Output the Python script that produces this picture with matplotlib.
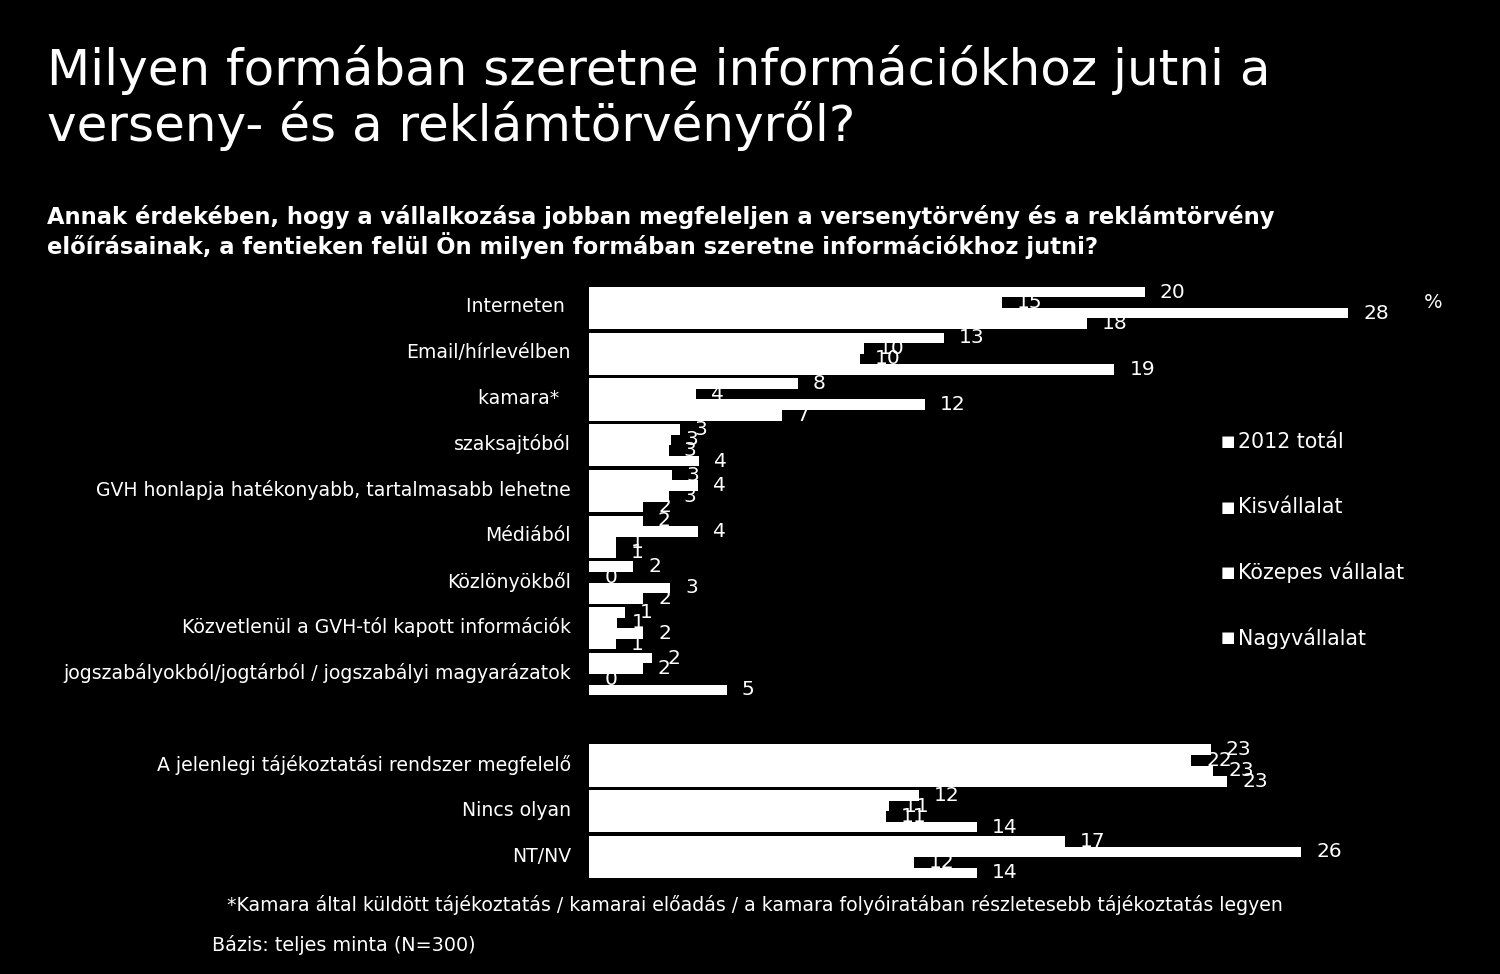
import numpy as np
import matplotlib.pyplot as plt
from matplotlib.transforms import ScaledTranslation

plt.rcParams['font.family'] = ['DejaVu Sans']

# Categories (top to bottom); empty string is the gap slot
categories = ['Interneten ', 'Email/hírlevélben', 'kamara*  ', 'szaksajtóból',
              'GVH honlapja hatékonyabb, tartalmasabb lehetne', 'Médiából',
              'Közlönyökből', 'Közvetlenül a GVH-tól kapott információk',
              'jogszabályokból/jogtárból / jogszabályi magyarázatok', '',
              'A jelenlegi tájékoztatási rendszer megfelelő', 'Nincs olyan', 'NT/NV']
series = ['2012 totál', 'Kisvállalat', 'Közepes vállalat', 'Nagyvállalat']

# Values in % (None = no bar in the gap slot)
total = [20.2, 12.9, 7.6, 3.3, 3.0, 1.95, 1.6, 1.3, 2.3, None, 22.6, 12.0, 17.3]
kis = [15.0, 10.0, 3.9, 2.97, 3.96, 3.96, 0.0, 1.0, 1.95, None, 21.9, 10.9, 25.9]
kozepes = [27.6, 9.85, 12.2, 2.9, 2.9, 0.98, 2.95, 1.97, 0.0, None, 22.7, 10.8, 11.8]
nagy = [18.1, 19.1, 7.0, 4.0, 1.97, 0.98, 1.97, 0.98, 5.0, None, 23.2, 14.1, 14.1]

title = 'Milyen formában szeretne információkhoz jutni a\nverseny- és a reklámtörvényről?'
subtitle = ('Annak érdekében, hogy a vállalkozása jobban megfeleljen a versenytörvény és a reklámtörvény\n'
            'előírásainak, a fentieken felül Ön milyen formában szeretne információkhoz jutni?')
footnote = '*Kamara által küldött tájékoztatás / kamarai előadás / a kamara folyóiratában részletesebb tájékoztatás legyen'
base_note = 'Bázis: teljes minta (N=300)'

fig = plt.figure(figsize=(15, 9.74), dpi=100, facecolor='black')
ax = fig.add_axes([589 / 1500, 0.0966, 825 / 1500, 0.6107])
ax.set_facecolor('black')

bar_h = 0.23
y = np.arange(len(categories))
for j, vals in enumerate([total, kis, kozepes, nagy]):
    for i, v in enumerate(vals):
        if v is None:
            continue
        yy = i + (j - 1.5) * bar_h
        # later series are drawn over the labels of earlier ones, like the original
        ax.barh(yy, v, height=bar_h, color='white', edgecolor='none', zorder=2 + 2 * j)
        ax.text(v + 0.55, yy, f'{v:.0f}', color='white', fontsize=14.5,
                va='center', ha='left', zorder=3 + 2 * j)

ax.set_xlim(0, 30)
ax.set_ylim(len(categories) - 0.5, -0.5)
ax.set_yticks(y)
ax.set_yticklabels(categories, fontsize=13.6, color='white')
ax.tick_params(axis='y', length=0, pad=13)
shift = ScaledTranslation(0, 0.03, fig.dpi_scale_trans)
for lab in ax.get_yticklabels():
    lab.set_transform(lab.get_transform() + shift)
ax.set_xticks([])
for s in ax.spines.values():
    s.set_visible(False)

# Legend (manual, like the original)
for k, name in enumerate(series):
    ly = 1 - (442 + 65.3 * k) / 974
    fig.text(1221 / 1500, ly, '■', color='white', fontsize=11, va='center', ha='left')
    fig.text(1238 / 1500, ly, name, color='white', fontsize=14.8, va='center', ha='left')

fig.text(1424 / 1500, 1 - 303 / 974, '%', color='white', fontsize=14, va='center', ha='left')

fig.text(47 / 1500, 1 - 98 / 974, title, color='white', fontsize=36, va='center', ha='left',
         linespacing=1.15)
fig.text(47 / 1500, 1 - 232 / 974, subtitle, color='white', fontsize=16.3, fontweight='bold',
         va='center', ha='left', linespacing=1.15)
fig.text(755 / 1500, 1 - 905 / 974, footnote, color='white', fontsize=13.6, va='center', ha='center')
fig.text(212 / 1500, 1 - 945 / 974, base_note, color='white', fontsize=13.8, va='center', ha='left')

fig.savefig('out.png', dpi=100, facecolor='black')
